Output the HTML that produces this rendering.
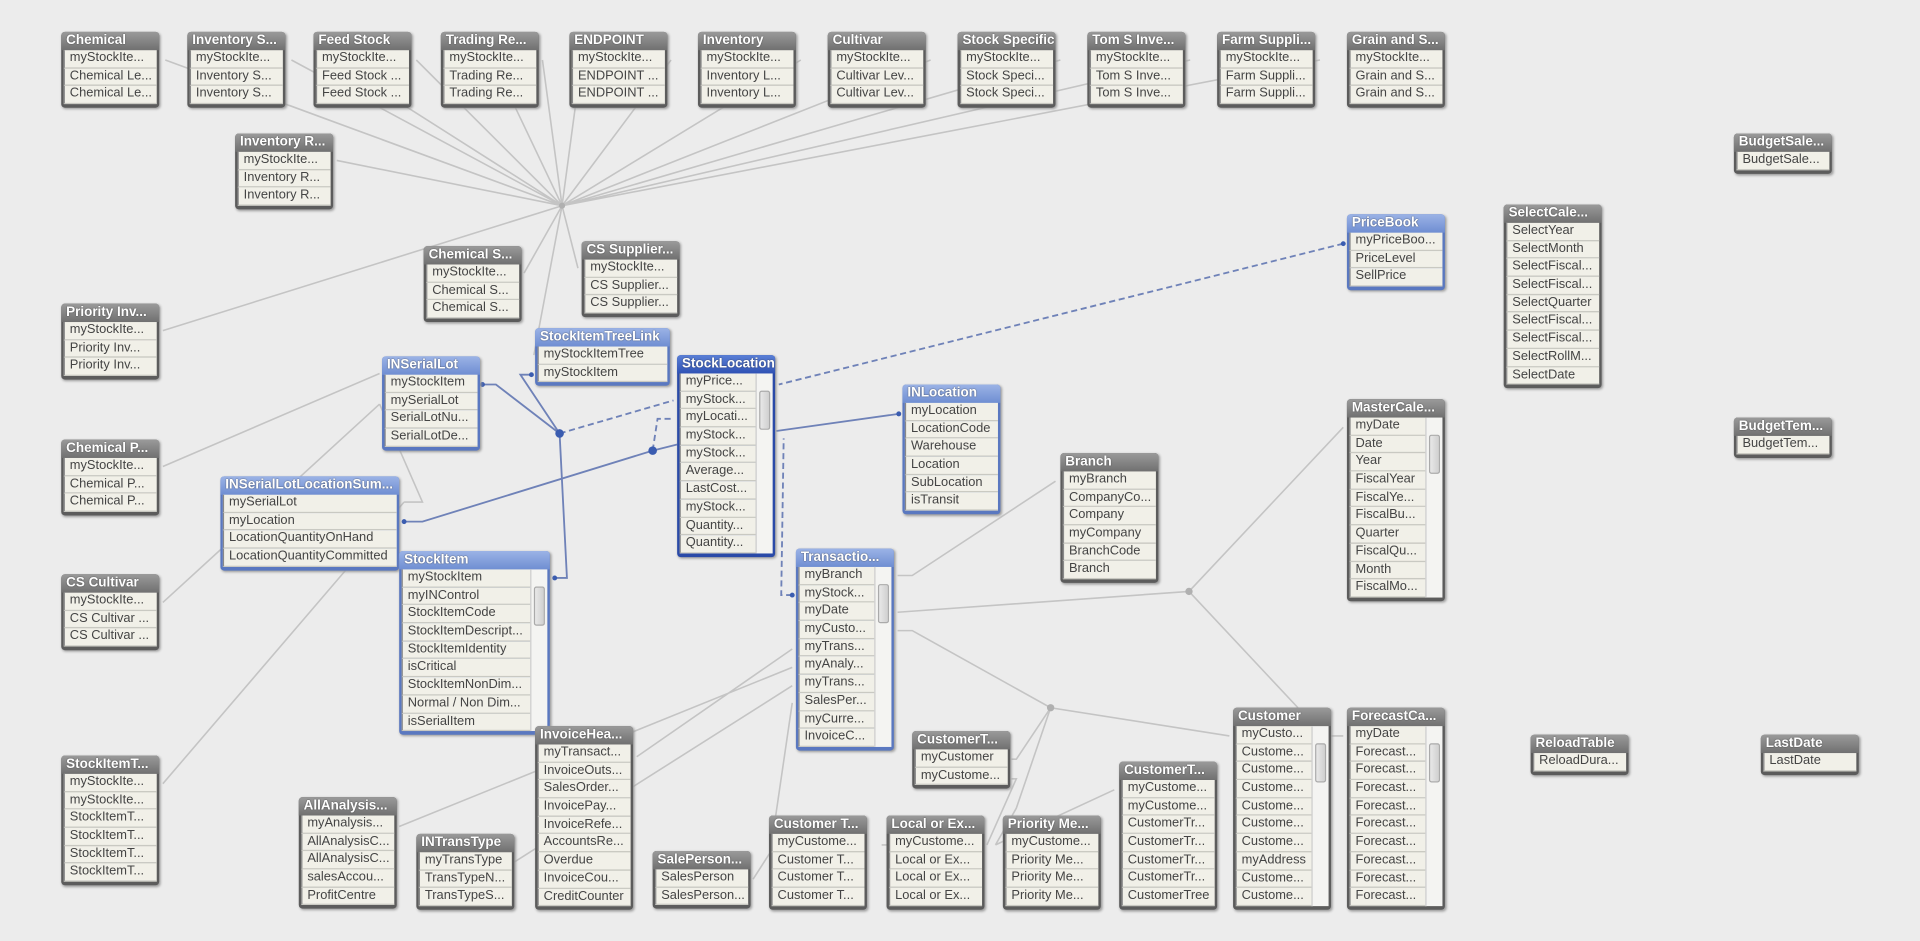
<!DOCTYPE html>
<html><head><meta charset="utf-8"><style>
html,body{margin:0;padding:0;background:#ececec;width:1920px;height:941px;overflow:hidden}
#w{position:absolute;left:0;top:0;width:1568px;height:768px;transform:scale(1.22449);transform-origin:0 0;font-family:"Liberation Sans",sans-serif}
svg{position:absolute;left:0;top:0}
.t{position:absolute;background:#5c5c5c;border-radius:3px;padding:0 2px 3px 2px;box-shadow:1px 1px 2px #999;width:76px}
.h{height:15px;line-height:15px;color:#fff;font-weight:bold;font-size:11px;padding-left:2px;white-space:nowrap;overflow:hidden;background:linear-gradient(#9a9a9a,#707070);border-radius:3px 3px 0 0;margin:0 -2px;padding-left:4px;text-shadow:0 0 1px #333}
.r{height:13.7px;line-height:13.7px;border-bottom:1px solid #c9c9c2;background:#f1f0e8;color:#444;font-size:10.5px;padding-left:4px;white-space:nowrap;overflow:hidden;border-left:1px solid #888}
.b{background:#5a78c0}.b .h{background:linear-gradient(#9bb3e6,#6f8ed2)}
.d{background:#2a4aa8}.d .h{background:linear-gradient(#5a7fd6,#2f52b4)}
.s{position:relative}.s .r{margin-right:13px}
.sb{position:absolute;right:0;top:0;bottom:0;width:13px;background:#f4f4f2;border-left:1px solid #ccc}
.sb i{position:absolute;left:2px;right:2px;top:14px;height:30px;background:linear-gradient(90deg,#e8e8e8,#d0d0d0);border:1px solid #aaa;border-radius:2px}
</style></head><body><div id="w">
<svg width="1568" height="768">
<g stroke="#c4c4c4" stroke-width="1.3" fill="none">
<path d="M459 168L135 49M459 168L238 49M459 168L340 49M459 168L443 49M459 168L548 49M459 168L654 49M459 168L760 49M459 168L866 49M459 168L972 49M459 168L1078 49M459 168L236 86M459 168L330 86M459 168L420 86M459 168L470 86M459 168L275 131M459 168L428 223M459 168L472 219M459 168L133 270M459 168L436 290"/>
<path d="M133 381L310 305M133 492L310 330M133 640L330 410M330 410L345 410 310 330"/>
<path d="M733 470L745 470 862 393M733 500L971 483 1097 349M971 483L1060 578M733 515L745 515 858 578 1004 601M858 578L830 620 826 620M858 578L830 660 813 690M826 636L830 636 806 690M813 690L910 645M1084 601L1097 601"/>
<path d="M647 530L520 618M647 545L326 675M647 560L420 704M647 574L630 690M633 690L615 718M725 690L720 690"/>
</g>
<g fill="#b0b0b0"><circle cx="459" cy="168" r="2.5"/><circle cx="971" cy="483" r="3"/><circle cx="858" cy="578" r="3"/></g>
<g stroke="#6f82b8" stroke-width="1.5" fill="none">
<path d="M394 314L405 314 457 354M434 306L425 306 457 354M457 354L463 472 453 472M330 426L345 426 533 368 553 363M734 338L634 352"/>
<path stroke-dasharray="5,3" d="M457 354L550 327M533 368L537 342 550 342M1097 199L636 314M647 486L638 486 640 358"/>
</g>
<g fill="#3a5cb0"><circle cx="457" cy="354" r="3.5"/><circle cx="533" cy="368" r="3.5"/><circle cx="394" cy="314" r="2"/><circle cx="434" cy="306" r="2"/><circle cx="330" cy="426" r="2"/><circle cx="453" cy="472" r="2"/><circle cx="734" cy="338" r="2"/><circle cx="1097" cy="199" r="2"/><circle cx="647" cy="486" r="2"/></g>
</svg>

<div class="t" style="left:50px;top:26px"><div class="h">Chemical</div><div class="r">myStockIte...</div><div class="r">Chemical Le...</div><div class="r">Chemical Le...</div></div>
<div class="t" style="left:153px;top:26px"><div class="h">Inventory S...</div><div class="r">myStockIte...</div><div class="r">Inventory S...</div><div class="r">Inventory S...</div></div>
<div class="t" style="left:256px;top:26px"><div class="h">Feed Stock</div><div class="r">myStockIte...</div><div class="r">Feed Stock ...</div><div class="r">Feed Stock ...</div></div>
<div class="t" style="left:360px;top:26px"><div class="h">Trading Re...</div><div class="r">myStockIte...</div><div class="r">Trading Re...</div><div class="r">Trading Re...</div></div>
<div class="t" style="left:465px;top:26px"><div class="h">ENDPOINT</div><div class="r">myStockIte...</div><div class="r">ENDPOINT ...</div><div class="r">ENDPOINT ...</div></div>
<div class="t" style="left:570px;top:26px"><div class="h">Inventory</div><div class="r">myStockIte...</div><div class="r">Inventory L...</div><div class="r">Inventory L...</div></div>
<div class="t" style="left:676px;top:26px"><div class="h">Cultivar</div><div class="r">myStockIte...</div><div class="r">Cultivar Lev...</div><div class="r">Cultivar Lev...</div></div>
<div class="t" style="left:782px;top:26px"><div class="h">Stock Specific</div><div class="r">myStockIte...</div><div class="r">Stock Speci...</div><div class="r">Stock Speci...</div></div>
<div class="t" style="left:888px;top:26px"><div class="h">Tom S Inve...</div><div class="r">myStockIte...</div><div class="r">Tom S Inve...</div><div class="r">Tom S Inve...</div></div>
<div class="t" style="left:994px;top:26px"><div class="h">Farm Suppli...</div><div class="r">myStockIte...</div><div class="r">Farm Suppli...</div><div class="r">Farm Suppli...</div></div>
<div class="t" style="left:1100px;top:26px"><div class="h">Grain and S...</div><div class="r">myStockIte...</div><div class="r">Grain and S...</div><div class="r">Grain and S...</div></div>
<div class="t" style="left:192px;top:109px"><div class="h">Inventory R...</div><div class="r">myStockIte...</div><div class="r">Inventory R...</div><div class="r">Inventory R...</div></div>
<div class="t" style="left:1416px;top:109px"><div class="h">BudgetSale...</div><div class="r">BudgetSale...</div></div>
<div class="t" style="left:1228px;top:167px"><div class="h">SelectCale...</div><div class="r">SelectYear</div><div class="r">SelectMonth</div><div class="r">SelectFiscal...</div><div class="r">SelectFiscal...</div><div class="r">SelectQuarter</div><div class="r">SelectFiscal...</div><div class="r">SelectFiscal...</div><div class="r">SelectRollM...</div><div class="r">SelectDate</div></div>
<div class="t b" style="left:1100px;top:175px"><div class="h">PriceBook</div><div class="r">myPriceBoo...</div><div class="r">PriceLevel</div><div class="r">SellPrice</div></div>
<div class="t" style="left:346px;top:201px"><div class="h">Chemical S...</div><div class="r">myStockIte...</div><div class="r">Chemical S...</div><div class="r">Chemical S...</div></div>
<div class="t" style="left:475px;top:197px"><div class="h">CS Supplier...</div><div class="r">myStockIte...</div><div class="r">CS Supplier...</div><div class="r">CS Supplier...</div></div>
<div class="t" style="left:50px;top:248px"><div class="h">Priority Inv...</div><div class="r">myStockIte...</div><div class="r">Priority Inv...</div><div class="r">Priority Inv...</div></div>
<div class="t b" style="left:437px;top:268px;width:106px"><div class="h">StockItemTreeLink</div><div class="r">myStockItemTree</div><div class="r">myStockItem</div></div>
<div class="t d" style="left:553px;top:290px"><div class="h">StockLocation</div><div class="s"><div class="sb"><i></i></div><div class="r">myPrice...</div><div class="r">myStock...</div><div class="r">myLocati...</div><div class="r">myStock...</div><div class="r">myStock...</div><div class="r">Average...</div><div class="r">LastCost...</div><div class="r">myStock...</div><div class="r">Quantity...</div><div class="r">Quantity...</div></div></div>
<div class="t b" style="left:312px;top:291px"><div class="h">INSerialLot</div><div class="r">myStockItem</div><div class="r">mySerialLot</div><div class="r">SerialLotNu...</div><div class="r">SerialLotDe...</div></div>
<div class="t b" style="left:737px;top:314px"><div class="h">INLocation</div><div class="r">myLocation</div><div class="r">LocationCode</div><div class="r">Warehouse</div><div class="r">Location</div><div class="r">SubLocation</div><div class="r">isTransit</div></div>
<div class="t" style="left:1100px;top:326px"><div class="h">MasterCale...</div><div class="s"><div class="sb"><i></i></div><div class="r">myDate</div><div class="r">Date</div><div class="r">Year</div><div class="r">FiscalYear</div><div class="r">FiscalYe...</div><div class="r">FiscalBu...</div><div class="r">Quarter</div><div class="r">FiscalQu...</div><div class="r">Month</div><div class="r">FiscalMo...</div></div></div>
<div class="t" style="left:1416px;top:341px"><div class="h">BudgetTem...</div><div class="r">BudgetTem...</div></div>
<div class="t" style="left:50px;top:359px"><div class="h">Chemical P...</div><div class="r">myStockIte...</div><div class="r">Chemical P...</div><div class="r">Chemical P...</div></div>
<div class="t" style="left:866px;top:370px"><div class="h">Branch</div><div class="r">myBranch</div><div class="r">CompanyCo...</div><div class="r">Company</div><div class="r">myCompany</div><div class="r">BranchCode</div><div class="r">Branch</div></div>
<div class="t b" style="left:180px;top:389px;width:142px"><div class="h">INSerialLotLocationSum...</div><div class="r">mySerialLot</div><div class="r">myLocation</div><div class="r">LocationQuantityOnHand</div><div class="r">LocationQuantityCommitted</div></div>
<div class="t b" style="left:326px;top:450px;width:119px"><div class="h">StockItem</div><div class="s"><div class="sb"><i></i></div><div class="r">myStockItem</div><div class="r">myINControl</div><div class="r">StockItemCode</div><div class="r">StockItemDescript...</div><div class="r">StockItemIdentity</div><div class="r">isCritical</div><div class="r">StockItemNonDim...</div><div class="r">Normal / Non Dim...</div><div class="r">isSerialItem</div></div></div>
<div class="t b" style="left:650px;top:448px"><div class="h">Transactio...</div><div class="s"><div class="sb"><i></i></div><div class="r">myBranch</div><div class="r">myStock...</div><div class="r">myDate</div><div class="r">myCusto...</div><div class="r">myTrans...</div><div class="r">myAnaly...</div><div class="r">myTrans...</div><div class="r">SalesPer...</div><div class="r">myCurre...</div><div class="r">InvoiceC...</div></div></div>
<div class="t" style="left:50px;top:469px"><div class="h">CS Cultivar</div><div class="r">myStockIte...</div><div class="r">CS Cultivar ...</div><div class="r">CS Cultivar ...</div></div>
<div class="t" style="left:437px;top:593px"><div class="h">InvoiceHea...</div><div class="r">myTransact...</div><div class="r">InvoiceOuts...</div><div class="r">SalesOrder...</div><div class="r">InvoicePay...</div><div class="r">InvoiceRefe...</div><div class="r">AccountsRe...</div><div class="r">Overdue</div><div class="r">InvoiceCou...</div><div class="r">CreditCounter</div></div>
<div class="t" style="left:745px;top:597px"><div class="h">CustomerT...</div><div class="r">myCustomer</div><div class="r">myCustome...</div></div>
<div class="t" style="left:1007px;top:578px"><div class="h">Customer</div><div class="s"><div class="sb"><i></i></div><div class="r">myCusto...</div><div class="r">Custome...</div><div class="r">Custome...</div><div class="r">Custome...</div><div class="r">Custome...</div><div class="r">Custome...</div><div class="r">Custome...</div><div class="r">myAddress</div><div class="r">Custome...</div><div class="r">Custome...</div></div></div>
<div class="t" style="left:1100px;top:578px"><div class="h">ForecastCa...</div><div class="s"><div class="sb"><i></i></div><div class="r">myDate</div><div class="r">Forecast...</div><div class="r">Forecast...</div><div class="r">Forecast...</div><div class="r">Forecast...</div><div class="r">Forecast...</div><div class="r">Forecast...</div><div class="r">Forecast...</div><div class="r">Forecast...</div><div class="r">Forecast...</div></div></div>
<div class="t" style="left:1250px;top:600px"><div class="h">ReloadTable</div><div class="r">ReloadDura...</div></div>
<div class="t" style="left:1438px;top:600px"><div class="h">LastDate</div><div class="r">LastDate</div></div>
<div class="t" style="left:50px;top:617px"><div class="h">StockItemT...</div><div class="r">myStockIte...</div><div class="r">myStockIte...</div><div class="r">StockItemT...</div><div class="r">StockItemT...</div><div class="r">StockItemT...</div><div class="r">StockItemT...</div></div>
<div class="t" style="left:914px;top:622px"><div class="h">CustomerT...</div><div class="r">myCustome...</div><div class="r">myCustome...</div><div class="r">CustomerTr...</div><div class="r">CustomerTr...</div><div class="r">CustomerTr...</div><div class="r">CustomerTr...</div><div class="r">CustomerTree</div></div>
<div class="t" style="left:244px;top:651px"><div class="h">AllAnalysis...</div><div class="r">myAnalysis...</div><div class="r">AllAnalysisC...</div><div class="r">AllAnalysisC...</div><div class="r">salesAccou...</div><div class="r">ProfitCentre</div></div>
<div class="t" style="left:340px;top:681px"><div class="h">INTransType</div><div class="r">myTransType</div><div class="r">TransTypeN...</div><div class="r">TransTypeS...</div></div>
<div class="t" style="left:533px;top:695px"><div class="h">SalePerson...</div><div class="r">SalesPerson</div><div class="r">SalesPerson...</div></div>
<div class="t" style="left:628px;top:666px"><div class="h">Customer T...</div><div class="r">myCustome...</div><div class="r">Customer T...</div><div class="r">Customer T...</div><div class="r">Customer T...</div></div>
<div class="t" style="left:724px;top:666px"><div class="h">Local or Ex...</div><div class="r">myCustome...</div><div class="r">Local or Ex...</div><div class="r">Local or Ex...</div><div class="r">Local or Ex...</div></div>
<div class="t" style="left:819px;top:666px"><div class="h">Priority Me...</div><div class="r">myCustome...</div><div class="r">Priority Me...</div><div class="r">Priority Me...</div><div class="r">Priority Me...</div></div>
</div></body></html>
